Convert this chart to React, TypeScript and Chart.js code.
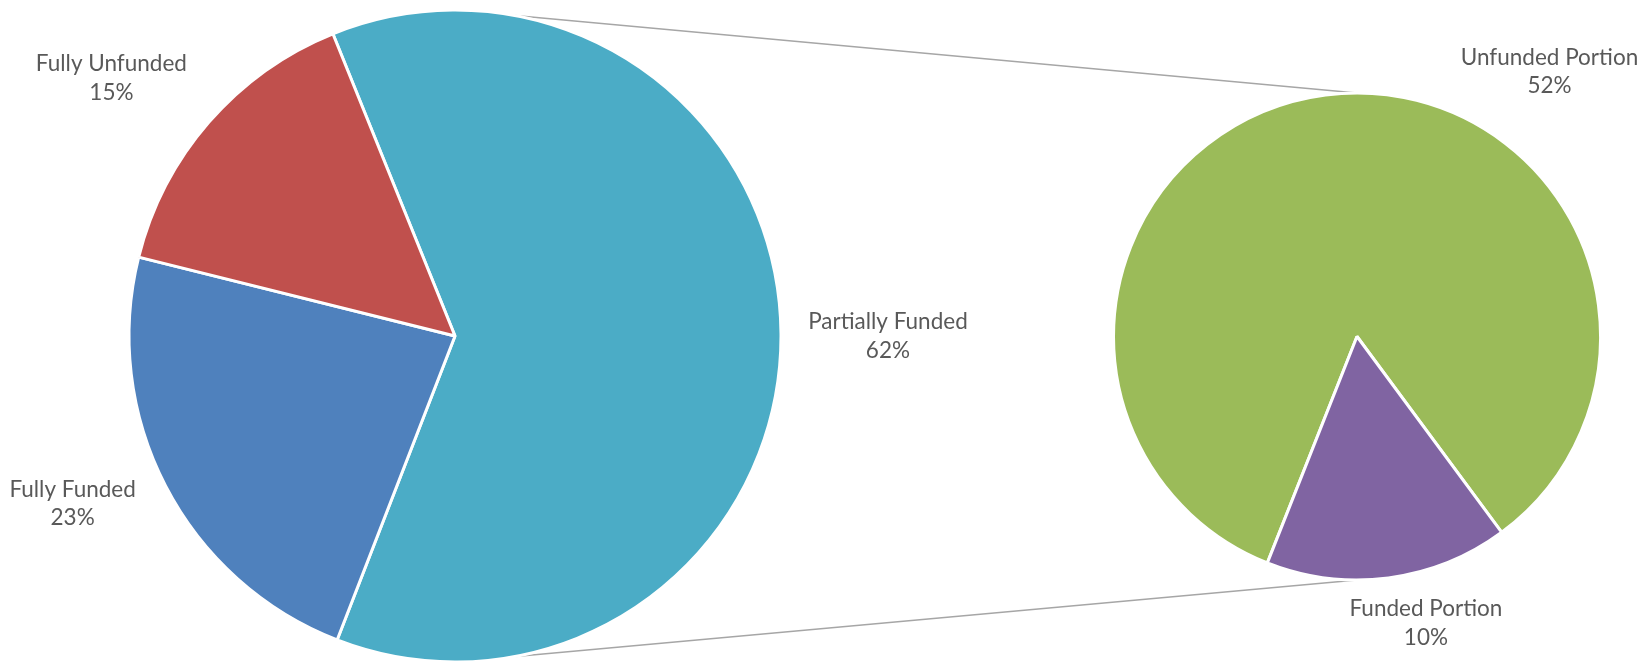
import React, { useEffect, useRef } from "react";
import { Chart, registerables } from "chart.js";

Chart.register(...registerables);

// ---- data ----
const mainCategories = ["Partially Funded", "Fully Funded", "Fully Unfunded"];
const mainValues = [62, 23, 15];
const subCategories = ["Unfunded Portion", "Funded Portion"];
const subValues = [52, 10];

// ---- styles ----
const mainColors = ["#4BACC6", "#4F81BD", "#C0504D"];
const subColors = ["#9BBB59", "#8064A2"];
const TEXT_COLOR = "#595959";
const FONT = "22.5px Lato, 'Open Sans', sans-serif";
const LINE_H = 28.5;

// label placement: [angle deg clockwise from 12 o'clock, distance in radii]
const mainLabelPlacement = [
  [90, 1.328],
  [246.3, 1.281],
  [306.9, 1.318],
];
const subLabelPlacement = [
  [36, 1.345],
  [166.5, 1.212],
];

const W = 1650;
const H = 663;

const labelPlugin = {
  id: "pieLabels",
  afterDatasetsDraw(chart: any, _args: any, opts: any) {
    const meta = chart.getDatasetMeta(0);
    const ds = chart.data.datasets[0];
    const labels = chart.data.labels;
    const ctx = chart.ctx;
    ctx.save();
    ctx.font = FONT;
    ctx.fillStyle = TEXT_COLOR;
    ctx.textAlign = "center";
    ctx.textBaseline = "middle";
    meta.data.forEach((arc: any, i: number) => {
      const { x, y, outerRadius } = arc.getProps(["x", "y", "outerRadius"], true);
      const [ang, dist] = opts.placements[i];
      const a = (ang * Math.PI) / 180;
      const px = x + Math.sin(a) * outerRadius * dist;
      const py = y - Math.cos(a) * outerRadius * dist;
      ctx.fillText(String(labels[i]), px, py - LINE_H / 2);
      ctx.fillText(ds.data[i] + "%", px, py + LINE_H / 2);
    });
    ctx.restore();
  },
};

const connectorPlugin = {
  id: "connectors",
  beforeDatasetsDraw(chart: any, _args: any, opts: any) {
    const src = opts.getSource && opts.getSource();
    if (!src) return;
    const a = src.getDatasetMeta(0).data[0];
    const b = chart.getDatasetMeta(0).data[0];
    if (!a || !b) return;
    const pa = a.getProps(["x", "y", "outerRadius"], true);
    const pb = b.getProps(["x", "y", "outerRadius"], true);
    const ctx = chart.ctx;
    ctx.save();
    ctx.strokeStyle = "#A6A6A6";
    ctx.lineWidth = 1.5;
    ctx.beginPath();
    ctx.moveTo(pa.x, pa.y - pa.outerRadius);
    ctx.lineTo(pb.x, pb.y - pb.outerRadius);
    ctx.moveTo(pa.x, pa.y + pa.outerRadius);
    ctx.lineTo(pb.x, pb.y + pb.outerRadius);
    ctx.stroke();
    ctx.restore();
  },
};

export default function App() {
  const leftRef = useRef<HTMLCanvasElement | null>(null);
  const rightRef = useRef<HTMLCanvasElement | null>(null);

  useEffect(() => {
    const prevMargin = document.body.style.margin;
    document.body.style.margin = "0";
    if (!leftRef.current || !rightRef.current) return;

    const left = new Chart(leftRef.current, {
      type: "pie",
      data: {
        labels: mainCategories,
        datasets: [
          {
            data: mainValues,
            backgroundColor: mainColors,
            borderColor: "#FFFFFF",
            borderWidth: 3,
          },
        ],
      },
      options: {
        responsive: false,
        animation: false,
        events: [],
        rotation: -22,
        radius: 326,
        layout: { padding: { left: 0, right: 740, top: 9, bottom: 0 } },
        plugins: {
          legend: { display: false },
          tooltip: { enabled: false },
          // @ts-ignore
          pieLabels: { placements: mainLabelPlacement },
        },
      } as any,
      plugins: [labelPlugin],
    });

    const right = new Chart(rightRef.current, {
      type: "pie",
      data: {
        labels: subCategories,
        datasets: [
          {
            data: subValues,
            backgroundColor: subColors,
            borderColor: "#FFFFFF",
            borderWidth: 3,
          },
        ],
      },
      options: {
        responsive: false,
        animation: false,
        events: [],
        rotation: -158.4,
        radius: 243.5,
        layout: { padding: { left: 1064, right: 0, top: 10, bottom: 0 } },
        plugins: {
          legend: { display: false },
          tooltip: { enabled: false },
          // @ts-ignore
          pieLabels: { placements: subLabelPlacement },
          // @ts-ignore
          connectors: { getSource: () => left },
        },
      } as any,
      plugins: [connectorPlugin, labelPlugin],
    });

    return () => {
      right.destroy();
      left.destroy();
      document.body.style.margin = prevMargin;
    };
  }, []);

  return (
    <div style={{ position: "relative", width: W, height: H, background: "#FFFFFF" }}>
      <canvas
        ref={rightRef}
        width={W}
        height={H}
        style={{ position: "absolute", left: 0, top: 0 }}
      />
      <canvas
        ref={leftRef}
        width={W}
        height={H}
        style={{ position: "absolute", left: 0, top: 0 }}
      />
    </div>
  );
}
